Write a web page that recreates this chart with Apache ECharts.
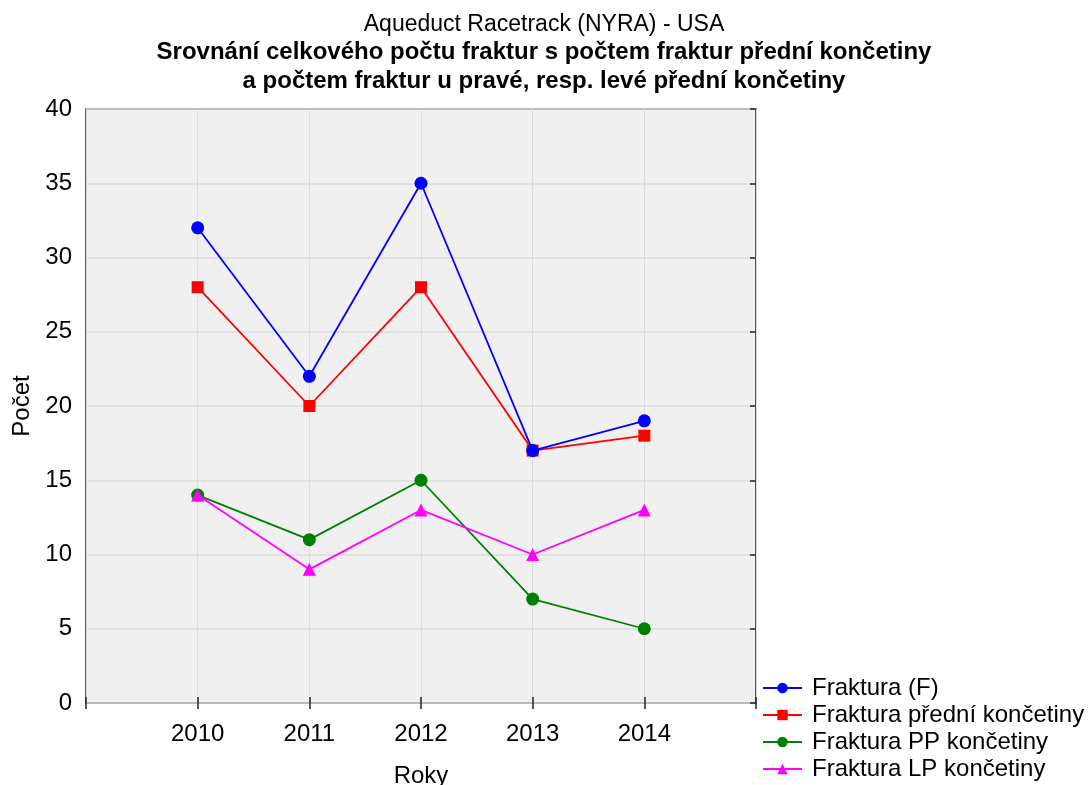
<!DOCTYPE html>
<html>
<head>
<meta charset="utf-8">
<script src="https://cdn.jsdelivr.net/npm/echarts@6/dist/echarts.min.js"></script>
<style>
  html, body { margin: 0; padding: 0; background: #fff; }
  #chart { width: 1088px; height: 785px; }
</style>
</head>
<body>
<div id="chart"></div>
<script>
// data
const years = [2010, 2011, 2012, 2013, 2014];
const fraktura = [32, 22, 35, 17, 19];
const predni = [28, 20, 28, 17, 18];
const ppKoncetiny = [14, 11, 15, 7, 5];
const lpKoncetiny = [14, 9, 13, 10, 13];

const font = 'Liberation Sans, Arial, sans-serif';

const pairs = (vals) => years.map((y, i) => [y, vals[i]]);

const chart = echarts.init(document.getElementById('chart'));

function lineSeries(name, vals, color, symbol, size, z) {
    return {
        name: name,
        type: 'line',
        data: pairs(vals),
        symbol: symbol,
        symbolSize: size,
        z: z,
        lineStyle: { color: color, width: 1.8 },
        itemStyle: { color: color },
        emphasis: { disabled: true }
    };
}

function titleLine(text, top, size, weight) {
    return {
        text: text,
        left: 'center',
        top: top,
        padding: 0,
        textStyle: { fontFamily: font, fontSize: size, fontWeight: weight, color: '#000' }
    };
}

chart.setOption({
    animation: false,
    title: [
        titleLine('Aqueduct Racetrack (NYRA) - USA', 13, 23, 'normal'),
        titleLine('Srovnání celkového počtu fraktur s počtem fraktur přední končetiny', 40, 24, 'bold'),
        titleLine('a počtem fraktur u pravé, resp. levé přední končetiny', 69, 24, 'bold')
    ],
    legend: {
        orient: 'vertical',
        left: 762,
        top: 676,
        height: 120,
        padding: 0,
        itemWidth: 39,
        itemHeight: 13,
        itemGap: 3,
        textStyle: { fontFamily: font, fontSize: 24, color: '#000', padding: [0, 0, 0, 5] },
        data: ['Fraktura (F)', 'Fraktura přední končetiny', 'Fraktura PP končetiny', 'Fraktura LP končetiny']
    },
    grid: {
        left: 86,
        top: 109,
        width: 670,
        height: 594,
        outerBoundsMode: 'none',
        show: true,
        backgroundColor: '#f0f0f0',
        borderColor: '#222',
        borderWidth: 1.5
    },
    xAxis: [
        {
            type: 'value',
            min: 2009,
            max: 2015,
            interval: 1,
            name: 'Roky',
            nameLocation: 'middle',
            nameGap: 61,
            nameTextStyle: { fontFamily: font, fontSize: 24, color: '#000' },
            axisLine: { show: false },
            axisTick: { inside: true, length: 6, lineStyle: { color: '#222', width: 1.5 } },
            axisLabel: {
                margin: 19,
                fontFamily: font,
                fontSize: 24,
                color: '#000',
                formatter: (v) => (years.indexOf(v) >= 0 ? String(v) : '')
            },
            splitLine: { show: true, lineStyle: { color: '#dcdcdc', width: 1 } }
        },
        {
            type: 'value',
            position: 'top',
            min: 2009,
            max: 2015,
            interval: 1,
            axisLine: { show: false },
            axisTick: { inside: true, length: 6, lineStyle: { color: '#222', width: 1.5 } },
            axisLabel: { show: false },
            splitLine: { show: false }
        }
    ],
    yAxis: [
        {
            type: 'value',
            min: 0,
            max: 40,
            interval: 5,
            name: 'Počet',
            nameLocation: 'middle',
            nameGap: 52,
            nameTextStyle: { fontFamily: font, fontSize: 24, color: '#000' },
            axisLine: { show: false },
            axisTick: { show: false },
            axisLabel: { margin: 14, fontFamily: font, fontSize: 24, color: '#000' },
            splitLine: { show: true, lineStyle: { color: '#dcdcdc', width: 1.5 } }
        },
        {
            type: 'value',
            position: 'right',
            min: 0,
            max: 40,
            interval: 5,
            axisLine: { show: false },
            axisTick: { inside: true, length: 6, lineStyle: { color: '#222', width: 1.5 } },
            axisLabel: { show: false },
            splitLine: { show: false }
        }
    ],
    series: [
        lineSeries('Fraktura (F)', fraktura, '#0000ff', 'circle', 13, 3),
        lineSeries('Fraktura přední končetiny', predni, '#ff0000', 'rect', 12, 2),
        lineSeries('Fraktura PP končetiny', ppKoncetiny, '#008000', 'circle', 13, 4),
        lineSeries('Fraktura LP končetiny', lpKoncetiny, '#ff00ff', 'triangle', 13, 5)
    ]
});
</script>
</body>
</html>
